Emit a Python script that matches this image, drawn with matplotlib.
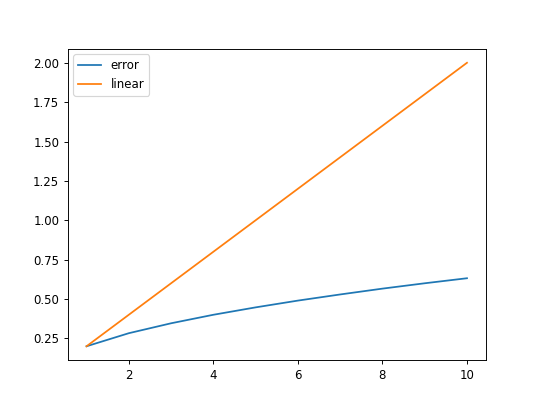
import matplotlib
matplotlib.use("Agg")
import matplotlib.pyplot as plt

x = [1, 2, 3, 4, 5, 6, 7, 8, 9, 10]
error = [0.20, 0.283, 0.346, 0.40, 0.447, 0.49, 0.529, 0.566, 0.60, 0.632]
linear = [0.2, 0.4, 0.6, 0.8, 1.0, 1.2, 1.4, 1.6, 1.8, 2.0]

fig, ax = plt.subplots(figsize=(6.4, 4.8), dpi=84.375)
ax.plot(x, error, label="error")
ax.plot(x, linear, label="linear")
ax.legend(loc="upper left")
fig.savefig("out.png", dpi=84.375)
